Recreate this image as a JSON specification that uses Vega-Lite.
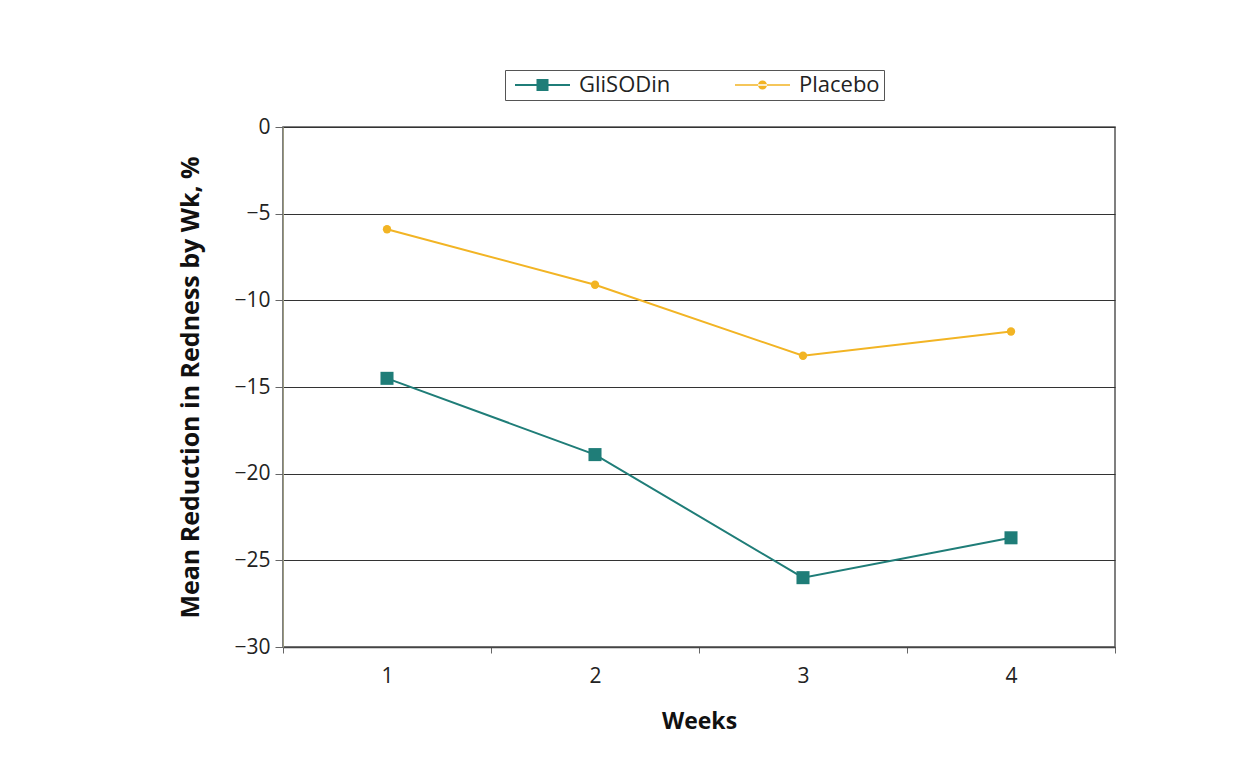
{
  "$schema": "https://vega.github.io/schema/vega-lite/v6.json",
  "autosize": {"type": "none"},
  "padding": {"left": 283, "top": 127, "right": 145, "bottom": 119},
  "width": 832,
  "height": 520,
  "background": "#ffffff",
  "config": {
    "font": "Open Sans",
    "view": {"stroke": "#555555", "strokeWidth": 1.5},
    "axis": {"labelColor": "#222222", "titleColor": "#111111", "labelFontSize": 21, "titleFontSize": 23, "titleFontWeight": "bold", "domainColor": "#666666", "tickColor": "#666666"},
    "legend": {"labelFontSize": 22, "labelColor": "#222222"}
  },
  "data": {
    "values": [
      {"week": "1", "series": "GliSODin", "value": -14.5},
      {"week": "2", "series": "GliSODin", "value": -18.9},
      {"week": "3", "series": "GliSODin", "value": -26.0},
      {"week": "4", "series": "GliSODin", "value": -23.7},
      {"week": "1", "series": "Placebo", "value": -5.9},
      {"week": "2", "series": "Placebo", "value": -9.1},
      {"week": "3", "series": "Placebo", "value": -13.2},
      {"week": "4", "series": "Placebo", "value": -11.8}
    ]
  },
  "encoding": {
    "x": {
      "field": "week", "type": "ordinal", "title": "Weeks",
      "scale": {"paddingInner": 0, "paddingOuter": 0},
      "axis": {"labelAngle": 0, "tickBand": "extent", "tickSize": 6, "labelPadding": 12, "titlePadding": 24, "grid": false, "domainColor": "#444444", "domainWidth": 1.5}
    },
    "y": {
      "field": "value", "type": "quantitative", "title": "Mean Reduction in Redness by Wk, %",
      "scale": {"domain": [-30, 0], "nice": false},
      "axis": {"values": [0, -5, -10, -15, -20, -25, -30], "grid": true, "gridColor": "#333333", "gridWidth": 1.2, "tickSize": 8, "labelPadding": 5, "titlePadding": 30, "titleFontSize": 25, "domainColor": "#9a9a80"}
    },
    "color": {
      "field": "series", "type": "nominal", "title": null,
      "scale": {"domain": ["GliSODin", "Placebo"], "range": ["#1f7d78", "#f2b424"]},
      "legend": {
        "orient": "none", "legendX": 222, "legendY": -57, "direction": "horizontal",
        "strokeColor": "#555555", "padding": 4, "symbolSize": 400, "symbolStrokeWidth": 0,
        "labelOffset": 48, "columnPadding": 58, "symbolOpacity": 1
      }
    }
  },
  "layer": [
    {
      "mark": {"type": "line", "strokeWidth": 2},
      "encoding": {}
    },
    {
      "transform": [{"filter": "datum.series === 'GliSODin'"}],
      "mark": {"type": "point", "filled": true, "opacity": 1, "shape": "square", "size": 170}
    },
    {
      "transform": [{"filter": "datum.series === 'Placebo'"}],
      "mark": {"type": "point", "filled": true, "opacity": 1, "shape": "circle", "size": 70}
    },
    {
      "transform": [{"filter": "false"}],
      "mark": {"type": "point", "filled": true, "opacity": 1},
      "encoding": {
        "shape": {
          "field": "series", "type": "nominal", "title": null,
          "scale": {"domain": ["GliSODin", "Placebo"], "range": [
            "M-0.5,-0.1H5V0.1H-0.5ZM1.65,-0.6H2.85V0.6H1.65Z",
            "M-0.5,-0.08H5V0.08H-0.5ZM1.8,0A0.45,0.45 0 1,0 2.7,0A0.45,0.45 0 1,0 1.8,0Z"
          ]},
          "legend": {
            "orient": "none", "legendX": 222, "legendY": -57, "direction": "horizontal",
            "strokeColor": "#555555", "padding": 4, "symbolSize": 400, "symbolStrokeWidth": 0,
            "labelOffset": 48, "columnPadding": 58, "symbolOpacity": 1
          }
        }
      }
    }
  ]
}
